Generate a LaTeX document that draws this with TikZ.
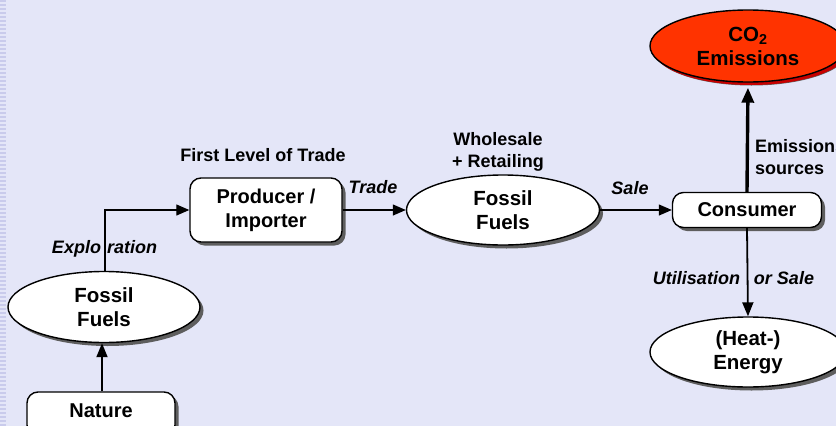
\documentclass[tikz,border=0pt]{standalone}
\usepackage{fontspec}
\setmainfont{Liberation Sans}
\usetikzlibrary{shapes.geometric,shadows,arrows.meta}
\definecolor{bgc}{HTML}{E4E6F8}
\definecolor{stripeA}{HTML}{C9CBEC}
\definecolor{co2red}{HTML}{FF3300}
\definecolor{co2shadow}{HTML}{C80000}
\definecolor{grayshadow}{HTML}{5E5E5E}
\tikzset{
  gshadow/.style={drop shadow={shadow xshift=3.5pt,shadow yshift=-3.5pt,fill=grayshadow,opacity=1}},
  boxnode/.style={draw=black,line width=1.4pt,fill=white,rounded corners=11pt,inner sep=0pt,align=center,gshadow,
     font=\bfseries\fontsize{20}{24}\selectfont},
  ellnode/.style={ellipse,draw=black,line width=1.4pt,fill=white,inner sep=0pt,align=center,gshadow,
     font=\bfseries\fontsize{20.5}{24}\selectfont},
  lbl/.style={font=\bfseries\fontsize{18}{21.5}\selectfont,inner sep=0pt,align=center},
  ilbl/.style={font=\bfseries\itshape\fontsize{18}{21.5}\selectfont,inner sep=0pt},
  thinarrow/.style={line width=1.2pt,-{Triangle[length=13pt,width=11pt]}},
  midarrow/.style={line width=1.8pt,-{Triangle[length=14pt,width=11pt]}},
  thickarrow/.style={line width=3.4pt,-{Triangle[length=15pt,width=12pt]}},
}
\begin{document}
\begin{tikzpicture}[x=1pt,y=-1pt]
\useasboundingbox (0,0) rectangle (836,426);
\fill[bgc] (0,0) rectangle (836,426);
\foreach \k in {0,...,106} {\fill[stripeA] (0,\k*4) rectangle (6,\k*4+2);}

% nodes
\node[boxnode,minimum width=152pt,minimum height=64pt] (prod) at (266,210) {Producer /\\Importer};
\node[ellnode,minimum width=193pt,minimum height=70pt] (ffmid) at (503,210) {Fossil\\Fuels};
\node[boxnode,minimum width=149pt,minimum height=35pt] (cons) at (747,210) {Consumer};
\node[ellnode,fill=co2red,minimum width=196pt,minimum height=72pt,
  drop shadow={shadow xshift=3pt,shadow yshift=-3pt,fill=co2shadow,opacity=1}] (co2) at (748,46) {CO\textsubscript{2}\\Emissions};
\node[ellnode,minimum width=196pt,minimum height=70pt] (heat) at (748,352) {(Heat-)\\Energy};
\node[ellnode,minimum width=192pt,minimum height=71pt] (ffleft) at (104,307) {Fossil\\Fuels};
\node[boxnode,minimum width=148pt,minimum height=44pt,text depth=0pt] (nature) at (101,414) {\raisebox{6pt}{Nature}};

% labels
\node[lbl] (lvl) at (263,155) {First Level of Trade};
\node[ilbl] (ltrade) at (373,187) {Trade};
\node[lbl] (lwhole) at (498,152) {Wholesale\\+ Retailing};
\node[ilbl] (lsale) at (630,188) {Sale};
\node[ilbl] (lexpl) at (104.5,249) {Explo\hspace{6pt}ration};
\node[lbl,align=left,anchor=west] (lemis) at (755,157) {Emissions\\sources};
\node[ilbl] (lutil) at (733.5,278) {Utilisation\hspace{14pt}or Sale};

% connectors
\draw[midarrow] (nature.north -| 102,0) -- (ffleft.south -| 102,0);
\coordinate (ffl) at (ffleft.north -| 105,0);
\draw[thinarrow] (ffl) |- (prod.west);
\draw[thinarrow] (prod.east) -- (ffmid.west);
\draw[thinarrow] (ffmid.east) -- (cons.west);
\draw[thickarrow,shorten >=5pt] (cons.north) -- (co2.south);
\draw[midarrow] (cons.south) -- (heat.north);
\end{tikzpicture}
\end{document}
